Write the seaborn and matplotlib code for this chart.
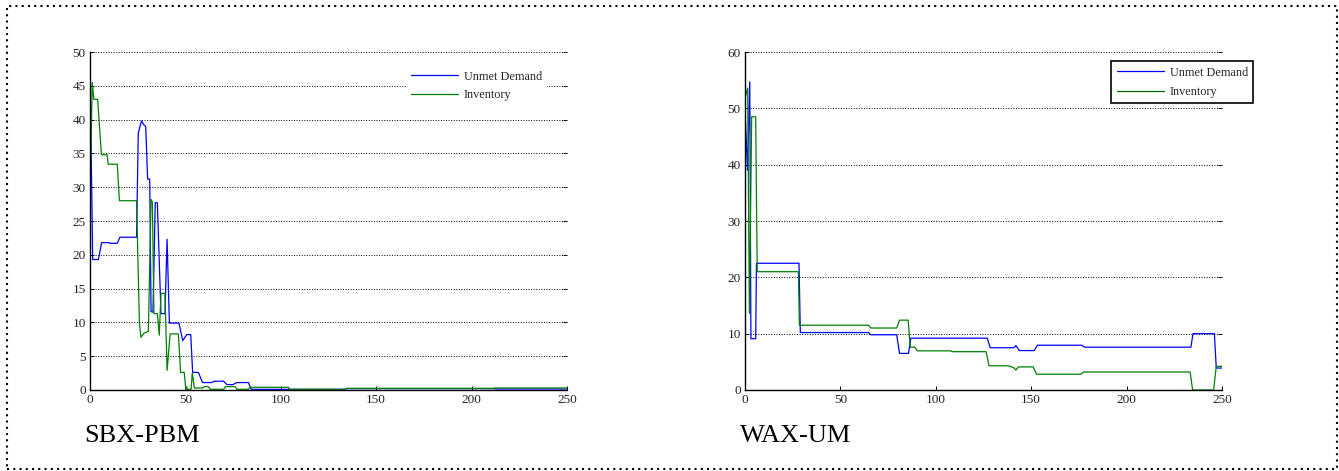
import numpy as np
import pandas as pd
import matplotlib
matplotlib.use("Agg")
import matplotlib.pyplot as plt
import seaborn as sns
from matplotlib.patches import Rectangle

# Data
# SBX-PBM panel
sbx_unmet_t = [0, 0.2, 1.4, 4.4, 6.1, 10, 10.5, 14.3, 15.7, 24.4, 25.3, 27, 28.3, 29.2, 30.2,
               31.3, 32, 33, 34.2, 35.3, 37.2, 39.3, 40.4, 41.6, 46.6, 48.6, 50.7, 52.8, 53.8,
               56.8, 59, 64, 65, 70, 71.8, 75, 76.8, 83, 84.5, 134, 134.5, 212, 212.5, 250]
sbx_unmet_v = [43.9, 43.9, 19.3, 19.3, 21.8, 21.8, 21.7, 21.7, 22.6, 22.6, 38, 39.8, 39.2, 39, 31.2,
               31.2, 11.6, 11.5, 27.7, 27.7, 11.3, 11.3, 22.3, 9.9, 9.9, 7.3, 8.2, 8.2, 2.6,
               2.6, 1.1, 1.1, 1.3, 1.3, 0.8, 0.8, 1.1, 1.1, 0.1, 0.1, 0.2, 0.2, 0.15, 0.15]
sbx_inv_t = [0, 1.2, 2, 4, 6, 9, 9.5, 14.3, 15.4, 24.4, 25.9, 26.7, 28.3, 30.6, 32, 32.7, 33.5,
             35.3, 36.3, 37.2, 39.3, 40.4, 42, 46.3, 47.5, 49.4, 50.2, 50.6, 51, 53, 53.6, 54.7,
             59, 60, 62, 63, 70, 71, 76, 77, 83, 84, 104, 104.5, 134, 134.5, 212, 212.5, 250]
sbx_inv_v = [29.3, 45.5, 43, 43, 34.8, 34.8, 33.4, 33.4, 28, 28, 9.9, 7.8, 8.4, 8.7, 28.2, 27.8, 11.3,
             11.3, 8.1, 14.3, 14.3, 2.9, 8.3, 8.3, 2.6, 2.6, 0.1, 0.5, 0.1, 0.1, 2.5, 0.3,
             0.3, 0.5, 0.5, 0.1, 0.1, 0.5, 0.5, 0.1, 0.1, 0.4, 0.4, 0.1, 0.1, 0.25, 0.25, 0.3, 0.3]

# WAX-UM panel
wax_unmet_t = [0, 1.3, 2.5, 3.1, 5.6, 6, 28.3, 29, 64.7, 66, 79.5, 81, 85.7, 86.9, 127, 128.5,
               141, 142, 143.8, 151.5, 153.3, 176.5, 178, 233.7, 234.8, 246, 247, 250]
wax_unmet_v = [49.8, 39, 54.7, 9.1, 9.1, 22.5, 22.5, 10.2, 10.2, 9.8, 9.8, 6.5, 6.5, 9.2, 9.2, 7.5,
               7.5, 7.9, 7.0, 7.0, 7.95, 7.95, 7.6, 7.6, 10.0, 10.0, 3.9, 3.9]
wax_inv_t = [0, 1.4, 2.3, 3.5, 5.6, 6.4, 28, 28.5, 64.7, 66, 79.5, 81, 85.5, 86.6, 89, 90.4,
             107.9, 108.5, 126.4, 127.9, 138, 140.7, 142, 143.3, 151, 152.8, 176, 177.5, 233.3,
             234.6, 245.6, 247, 250]
wax_inv_v = [51.8, 53.6, 13.6, 48.5, 48.5, 21, 21, 11.5, 11.5, 11.0, 11.0, 12.4, 12.4, 7.6, 7.6, 6.95,
             6.95, 6.8, 6.8, 4.3, 4.3, 4.0, 3.55, 4.1, 4.1, 2.8, 2.8, 3.2, 3.2,
             0, 0, 4.2, 4.2]

panel_names = ["SBX-PBM", "WAX-UM"]
y_limits = [50, 60]
y_steps = [5, 10]
x_ticks = [0, 50, 100, 150, 200, 250]

BLUE = "#0000ff"
GREEN = "#008000"

sns.set_style("white")
plt.rcParams["font.family"] = ["Liberation Serif", "DejaVu Serif"]

fig = plt.figure(figsize=(13.39, 4.71), dpi=100)
W, H = 1339, 471


def fig_box(x0, y0, x1, y1):
    # pixel box (top-left origin) -> figure fraction rect
    return [x0 / W, 1 - y1 / H, (x1 - x0) / W, (y1 - y0) / H]


ax1 = fig.add_axes(fig_box(90, 52, 567, 390))
ax2 = fig.add_axes(fig_box(745, 52, 1222, 390))

series = [
    (ax1, sbx_unmet_t, sbx_unmet_v, sbx_inv_t, sbx_inv_v),
    (ax2, wax_unmet_t, wax_unmet_v, wax_inv_t, wax_inv_v),
]

for i, (ax, ut, uv, it, iv) in enumerate(series):
    df_u = pd.DataFrame({"t": ut, "v": uv})
    df_i = pd.DataFrame({"t": it, "v": iv})
    sns.lineplot(data=df_u, x="t", y="v", ax=ax, color=BLUE, linewidth=0.9,
                 estimator=None, sort=False, label="Unmet Demand")
    sns.lineplot(data=df_i, x="t", y="v", ax=ax, color=GREEN, linewidth=0.9,
                 estimator=None, sort=False, label="Inventory")
    ax.set_xlim(0, 250)
    ax.set_ylim(0, y_limits[i])
    ax.set_xticks(x_ticks)
    ax.set_yticks(np.arange(0, y_limits[i] + 1, y_steps[i]))
    ax.set_xlabel("")
    ax.set_ylabel("")
    ax.grid(axis="y", color="black", linestyle=":", linewidth=0.7)
    ax.grid(axis="x", visible=False)
    for s in ["top", "right"]:
        ax.spines[s].set_visible(False)
    for s in ["left", "bottom"]:
        ax.spines[s].set_color("black")
        ax.spines[s].set_linewidth(1.0)
    ax.tick_params(axis="both", direction="in", length=3, width=0.7, labelsize=9.5,
                   colors="black", left=True, bottom=True, right=True, pad=3)
    for lab in ax.get_xticklabels() + ax.get_yticklabels():
        lab.set_color("#222222")

# legends
leg1 = ax1.legend(loc="upper left", bbox_to_anchor=(407 / W, 1 - 67 / H),
                  bbox_transform=fig.transFigure, frameon=True, fontsize=8.8,
                  handlelength=3.9, handletextpad=0.45, borderpad=0.3,
                  labelspacing=0.55, borderaxespad=0, fancybox=False)
leg1.get_frame().set_edgecolor("white")
leg1.get_frame().set_facecolor("white")
leg1.get_frame().set_alpha(1)

leg2 = ax2.legend(loc="upper left", bbox_to_anchor=(1111 / W, 1 - 61 / H),
                  bbox_transform=fig.transFigure, frameon=True, fontsize=8.8,
                  handlelength=3.9, handletextpad=0.45, borderpad=0.45,
                  labelspacing=0.6, borderaxespad=0, fancybox=False)
leg2.get_frame().set_edgecolor("black")
leg2.get_frame().set_linewidth(1.2)
leg2.get_frame().set_alpha(1)
leg2.get_lines()[1].set_color("#006400")

# panel captions
fig.text(84 / W, 1 - 442 / H, panel_names[0], fontsize=19, ha="left", va="baseline",
         color="black")
fig.text(740 / W, 1 - 442 / H, panel_names[1], fontsize=19, ha="left", va="baseline",
         color="black")

# dotted frame round the whole figure
fig.patches.append(Rectangle((7 / W, 1 - 469 / H), (1337 - 7) / W, (469 - 6) / H,
                             transform=fig.transFigure, fill=False, edgecolor="black",
                             linestyle=(0, (1, 2)), linewidth=1.5))

fig.savefig("out.png", dpi=100)
